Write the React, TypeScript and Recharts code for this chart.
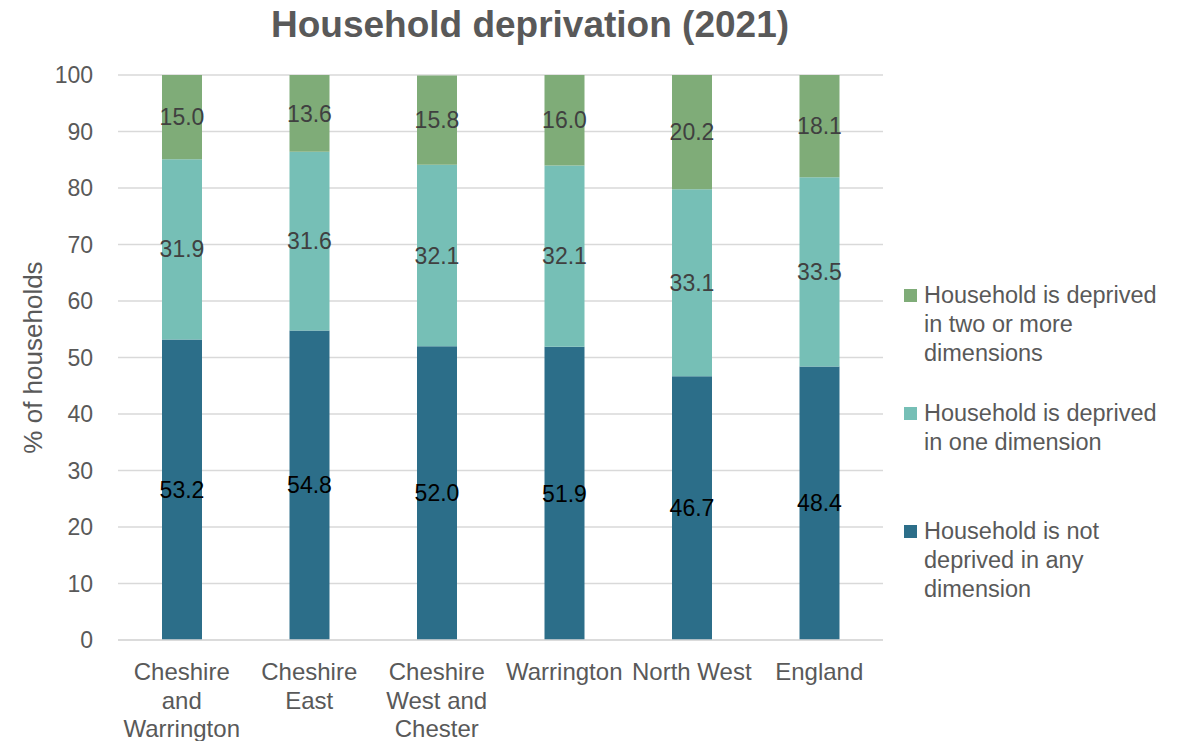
import React from "react";
import {
  BarChart,
  Bar,
  XAxis,
  YAxis,
  CartesianGrid,
  LabelList,
} from "recharts";

const FONT = '"Liberation Sans", Arial, sans-serif';

const categories = [
  "Cheshire and Warrington",
  "Cheshire East",
  "Cheshire West and Chester",
  "Warrington",
  "North West",
  "England",
];
// etiquetas del eje X tal como se parten en el original
const categoryLines = [
  ["Cheshire", "and", "Warrington"],
  ["Cheshire", "East"],
  ["Cheshire", "West and", "Chester"],
  ["Warrington"],
  ["North West"],
  ["England"],
];
const notDeprived = [53.2, 54.8, 52.0, 51.9, 46.7, 48.4];
const oneDimension = [31.9, 31.6, 32.1, 32.1, 33.1, 33.5];
const twoOrMore = [15.0, 13.6, 15.8, 16.0, 20.2, 18.1];
const yTicks = [0, 10, 20, 30, 40, 50, 60, 70, 80, 90, 100];

const series = [
  { key: "not", name: "Household is not deprived in any dimension", color: "#2c6e89", label: "#000000" },
  { key: "one", name: "Household is deprived in one dimension", color: "#76bfb6", label: "#404040" },
  { key: "two", name: "Household is deprived in two or more dimensions", color: "#7fac78", label: "#404040" },
];

const data = categories.map((name, i) => ({
  name,
  not: notDeprived[i],
  one: oneDimension[i],
  two: twoOrMore[i],
}));

// tick de categoría con salto de línea
const CategoryTick = ({ x, y, payload }: any) => {
  const lines = categoryLines[categories.indexOf(payload.value)] || [payload.value];
  return (
    <text x={x} y={y} textAnchor="middle" fill="#595959" style={{ fontSize: 24, fontFamily: FONT }}>
      {lines.map((l, i) => (
        <tspan key={i} x={x} dy={i === 0 ? 14 : 28.5}>
          {l}
        </tspan>
      ))}
    </text>
  );
};

// leyenda en orden inverso, como en Excel
const SideLegend = () => (
  <div
    style={{
      position: "absolute",
      left: 904,
      top: 281,
      width: 270,
      fontFamily: FONT,
      fontSize: 23.5,
      color: "#595959",
      lineHeight: "29px",
    }}
  >
    {[...series].reverse().map((s) => (
      <div key={s.key} style={{ display: "flex", alignItems: "flex-start", height: 118 }}>
        <span
          style={{
            display: "inline-block",
            width: 13,
            height: 13,
            background: s.color,
            marginTop: 8,
            marginRight: 7,
            flexShrink: 0,
          }}
        />
        <span style={{ width: 245 }}>{s.name}</span>
      </div>
    ))}
  </div>
);

export default function App() {
  return (
    <div style={{ position: "absolute", left: 0, top: 0, width: 1183, height: 741, background: "#fff", overflow: "hidden" }}>
      <div
        style={{
          position: "absolute",
          left: 330,
          width: 400,
          top: 4,
          fontFamily: FONT,
          fontWeight: 700,
          fontSize: 37,
          color: "#595959",
          whiteSpace: "nowrap",
          display: "flex",
          justifyContent: "center",
        }}
      >
        Household deprivation (2021)
      </div>
      <BarChart
        width={1183}
        height={741}
        data={data}
        margin={{ top: 75, right: 300, left: 0, bottom: 0 }}
        barSize={40}
        style={{ fontFamily: FONT }}
      >
        <CartesianGrid vertical={false} stroke="#d9d9d9" strokeWidth={1.5} />
        <XAxis
          dataKey="name"
          interval={0}
          height={101}
          tick={<CategoryTick />}
          tickLine={false}
          tickSize={0}
          tickMargin={26}
          axisLine={{ stroke: "#d9d9d9", strokeWidth: 1.5 }}
        />
        <YAxis
          width={118}
          domain={[0, 100]}
          ticks={yTicks}
          allowDataOverflow
          tickLine={false}
          axisLine={false}
          tickSize={0}
          tickMargin={25}
          tick={{ fill: "#595959", fontSize: 23, fontFamily: FONT }}
          label={{
            value: "% of households",
            angle: -90,
            position: "insideLeft",
            offset: 33,
            style: { textAnchor: "middle", fill: "#595959", fontSize: 26, fontFamily: FONT },
          }}
        />
        {series.map((s) => (
          <Bar key={s.key} dataKey={s.key} name={s.name} stackId="a" fill={s.color} isAnimationActive={false}>
            <LabelList
              dataKey={s.key}
              position="center"
              formatter={(v: any) => Number(v).toFixed(1)}
              fill={s.label}
              style={{ fontSize: 23, fontFamily: FONT }}
            />
          </Bar>
        ))}
      </BarChart>
      <SideLegend />
    </div>
  );
}
